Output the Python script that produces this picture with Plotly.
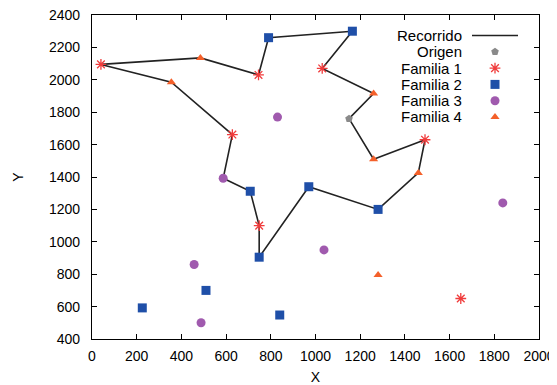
import plotly.graph_objects as go

# ---------------- data ----------------
origen_x = [1150]
origen_y = [1760]

fam1_x = [40, 745, 1030, 628, 1490, 748, 1650]
fam1_y = [2095, 2030, 2070, 1662, 1630, 1100, 650]

fam2_x = [790, 1165, 708, 970, 1280, 748, 225, 510, 840]
fam2_y = [2260, 2300, 1312, 1340, 1200, 905, 592, 700, 548]

fam3_x = [830, 587, 1038, 457, 488, 1838]
fam3_y = [1770, 1392, 950, 860, 500, 1240]

fam4_x = [485, 355, 1260, 1260, 1460, 1280]
fam4_y = [2135, 1985, 1915, 1510, 1425, 795]

route_x = [1150, 1260, 1030, 1165, 790, 745, 485, 40, 355, 628, 587, 708, 748, 748,
           970, 1280, 1460, 1490, 1260, 1150]
route_y = [1760, 1915, 2070, 2300, 2260, 2030, 2135, 2095, 1985, 1662, 1392, 1312, 1100, 905,
           1340, 1200, 1425, 1630, 1510, 1760]

legend_names = ["Recorrido", "Origen", "Familia 1", "Familia 2", "Familia 3", "Familia 4"]

x_ticks = [0, 200, 400, 600, 800, 1000, 1200, 1400, 1600, 1800, 2000]
y_ticks = [400, 600, 800, 1000, 1200, 1400, 1600, 1800, 2000, 2200, 2400]

# ---------------- styles ----------------
FONT = "Liberation Sans, Arial, sans-serif"
C_LINE = "#222222"
C_ORIG = "#8a8a8a"
C_F1 = "#f03c3c"
C_F2 = "#1f4fa8"
C_F3 = "#a05aae"
C_F4 = "#f4602a"

styles = {
    "Origen": dict(symbol="pentagon", size=8, color=C_ORIG),
    "Familia 1": dict(symbol="asterisk-open", size=9, color=C_F1, line=dict(color=C_F1, width=1.3)),
    "Familia 2": dict(symbol="square", size=9, color=C_F2),
    "Familia 3": dict(symbol="circle", size=9, color=C_F3),
    "Familia 4": dict(symbol="triangle-up", size=8, color=C_F4),
}

fig = go.Figure()
fig.add_trace(go.Scatter(x=route_x, y=route_y, mode="lines",
                         line=dict(color=C_LINE, width=1.6), showlegend=False, hoverinfo="skip"))
for name, xs, ys in [("Origen", origen_x, origen_y), ("Familia 1", fam1_x, fam1_y),
                     ("Familia 2", fam2_x, fam2_y), ("Familia 3", fam3_x, fam3_y),
                     ("Familia 4", fam4_x, fam4_y)]:
    fig.add_trace(go.Scatter(x=xs, y=ys, mode="markers", name=name,
                             marker=styles[name], showlegend=False))

# ---------------- layout geometry (page has an 8px body margin) ----------------
OFF = 8
WIN_W, WIN_H = 557, 385
W, H = WIN_W - OFF, WIN_H - OFF
PL, PR, PT, PB = 92, 539, 15, 339  # plot box in window pixels
L, T = PL - OFF, PT - OFF
R, B = W - (PR - OFF), H - (PB - OFF)
pw, ph = PR - PL, PB - PT

# ---------------- custom gnuplot-style legend ----------------
text_right = (462 - PL) / pw
key_x = (495 - PL) / pw
line_x0, line_x1 = (472 - PL) / pw, (518 - PL) / pw
row0 = 1 - (35.5 - PT) / ph
dy = 16.3 / ph

for i, name in enumerate(legend_names):
    yy = row0 - i * dy
    fig.add_annotation(x=text_right, y=yy, xref="paper", yref="paper", text=name,
                       showarrow=False, xanchor="right", yanchor="middle", xshift=2,
                       font=dict(family=FONT, size=15, color="#000"))
    if i == 0:
        fig.add_shape(type="line", xref="paper", yref="paper", x0=line_x0, x1=line_x1,
                      y0=yy, y1=yy, line=dict(color=C_LINE, width=1.6))
    else:
        fig.add_trace(go.Scatter(x=[key_x], y=[yy], xaxis="x2", yaxis="y2", mode="markers",
                                 marker=styles[name], showlegend=False, hoverinfo="skip"))

axis_common = dict(showgrid=False, zeroline=False, showline=True, linecolor="#000", linewidth=1.3,
                   mirror="ticks", ticks="inside", ticklen=5, tickwidth=1, tickcolor="#000",
                   automargin=False, ticklabeloverflow="allow",
                   tickfont=dict(family=FONT, size=14, color="#000"))

fig.update_layout(
    width=W, height=H, margin=dict(l=L, r=R, t=T, b=B),
    paper_bgcolor="white", plot_bgcolor="white", showlegend=False,
    xaxis=dict(range=[0, 2000], tickvals=x_ticks, ticktext=[str(v) for v in x_ticks],
               title=dict(text="X", font=dict(family=FONT, size=14, color="#000"), standoff=13),
               ticklabelstandoff=4, **axis_common),
    yaxis=dict(range=[400, 2400], tickvals=y_ticks, ticktext=[str(v) for v in y_ticks],
               title=dict(text="Y", font=dict(family=FONT, size=14, color="#000"), standoff=21),
               ticklabelstandoff=8, **axis_common),
    xaxis2=dict(range=[0, 1], overlaying="x", visible=False, fixedrange=True),
    yaxis2=dict(range=[0, 1], overlaying="y", visible=False, fixedrange=True),
)

fig.write_html("out.html")
